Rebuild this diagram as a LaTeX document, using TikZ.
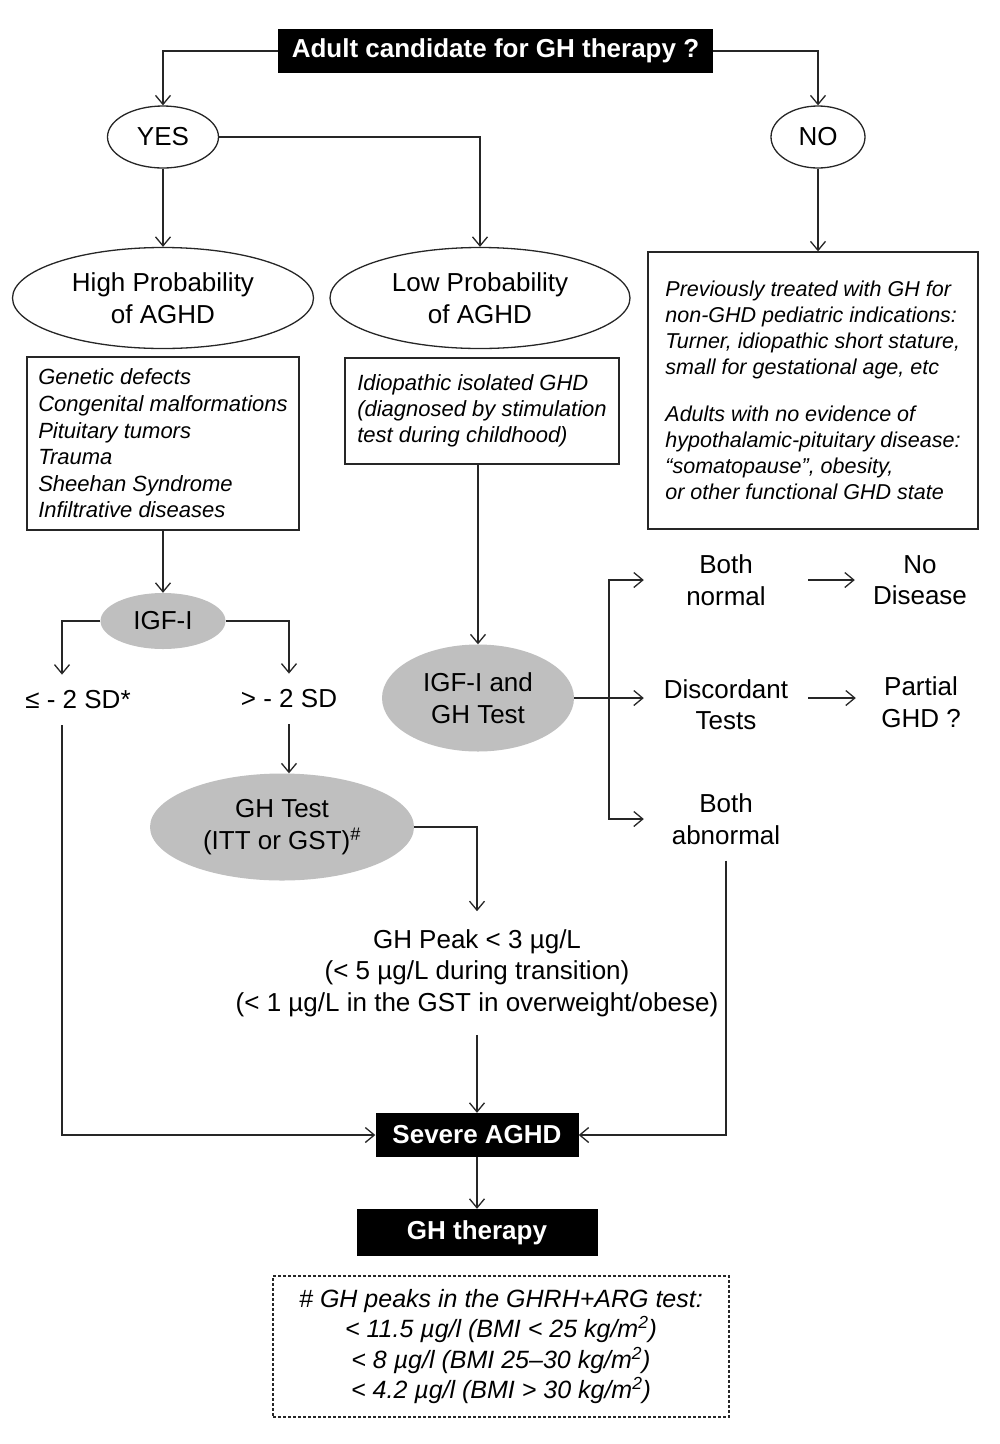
\documentclass[tikz,border=0pt]{standalone}
\usepackage{fontspec}
\setmainfont{Liberation Sans}
\usetikzlibrary{positioning,shapes.geometric,arrows.meta,calc}

\begin{document}
\begin{tikzpicture}[x=1pt,y=-1pt]
    \tikzstyle{every node}=[inner sep=0,align=center,font=\fontsize{26}{31.5}\selectfont]
    \tikzstyle{title}=[fill=black,text=white,font=\fontsize{26}{31.5}\selectfont\bfseries]
    \tikzstyle{oval}=[draw=black!85,ellipse,line width=1.3pt]
    \tikzstyle{grayoval}=[ellipse,fill=gray!50]
    \tikzstyle{list}=[draw=black!85,line width=1.3pt,align=left]
    \tikzstyle{label}=[inner ysep=16pt]
    \tikzstyle{result}=[minimum width=164pt,inner ysep=16pt]
    \tikzstyle{outcome}=[minimum width=130pt]
    \tikzstyle{arr}=[draw=black!85,line width=1.3pt,-{Straight Barb[length=9pt,width=15pt]}]
    {
        \useasboundingbox (0,0) rectangle (1000,1444);

        \node[title,minimum width=435pt,minimum height=44pt] (top) at (495.5,51) {Adult candidate for GH therapy ?};
        \node[oval,minimum width=111pt,minimum height=62pt] (yes) at (163,137) {YES};
        \node[oval,minimum width=94pt,minimum height=62pt] (no) at (818,137) {NO};

        \node[oval,minimum width=301pt,minimum height=101pt] (high) at (163,298) {High Probability\\of AGHD};
        \node[oval,minimum width=300pt,minimum height=101pt] (low) at (480,298) {Low Probability\\of AGHD};

        \node[list,minimum width=272pt,minimum height=173pt,font=\fontsize{22}{26.6}\selectfont\itshape]
            (highbox) at (163,443.5) {Genetic defects\\Congenital malformations\\Pituitary tumors\\Trauma\\Sheehan Syndrome\\Infiltrative diseases};
        \node[list,minimum width=274pt,minimum height=106pt,font=\fontsize{22}{26}\selectfont\itshape]
            (lowbox) at (482,411) {Idiopathic isolated GHD\\(diagnosed by stimulation\\test during childhood)};
        \node[list,minimum width=330pt,minimum height=277pt,font=\fontsize{21.5}{26}\selectfont\itshape]
            (nobox) at (813,390.5) {Previously treated with GH for\\non-GHD pediatric indications:\\Turner, idiopathic short stature,\\small for gestational age, etc\\[21pt]Adults with no evidence of\\hypothalamic-pituitary disease:\\“somatopause”, obesity,\\or other functional GHD state};

        \node[grayoval,minimum width=125pt,minimum height=56pt] (igf) at (163,621) {IGF-I};
        \node[label] (le) at (78,700) {≤ - 2 SD*};
        \node[label] (gt) at (289,699) {> - 2 SD};
        \node[grayoval,minimum width=264pt,minimum height=107pt] (ghtest) at (282,827) {GH Test\\(ITT or GST)\textsuperscript{\#}};
        \node[inner ysep=18pt] (peak) at (477,973) {GH Peak < 3 µg/L\\(< 5 µg/L during transition)\\(< 1 µg/L in the GST in overweight/obese)};

        \node[grayoval,minimum width=192pt,minimum height=107pt] (igfgh) at (478,698) {IGF-I and\\GH Test};
        \node[result] (bn) at (726,580) {Both\\normal};
        \node[outcome] (nd) at (920,580) {No\\Disease};
        \node[result] (disc) at (726,704.5) {Discordant\\Tests};
        \node[outcome] (pg) at (921,702) {Partial\\GHD ?};
        \node[result] (ba) at (726,819) {Both\\abnormal};

        \node[title,minimum width=203pt,minimum height=44pt] (severe) at (477,1135) {Severe AGHD};
        \node[title,minimum width=241pt,minimum height=47pt] (therapy) at (477,1232.5) {GH therapy};
        \node[draw=black!85,densely dashed,line width=1.2pt,minimum width=456pt,minimum height=141pt,font=\fontsize{25}{30.5}\selectfont\itshape]
            (note) at (501,1346.5) {\# GH peaks in the GHRH+ARG test:\\< 11.5 µg/l (BMI < 25 kg/m\textsuperscript{2})\\< 8 µg/l (BMI 25–30 kg/m\textsuperscript{2})\\< 4.2 µg/l (BMI > 30 kg/m\textsuperscript{2})};

        \draw[arr] (top.west) -| (yes.north);
        \draw[arr] (top.east) -| (no.north);
        \draw[arr] (yes.east) -| (low.north);
        \draw[arr] (yes.south) -- (high.north);
        \draw[arr] (no.south) -- (no.south |- nobox.north);
        \draw[arr] (highbox.south) -- (igf.north);
        \draw[arr] (igfgh.north |- lowbox.south) -- (igfgh.north);

        \draw[arr] (igf.west) -| ([xshift=-16pt]le.north);
        \draw[arr] (igf.east) -| (gt.north);
        \draw[arr] (gt.south) -- (gt.south |- ghtest.north);
        \draw[arr] (ghtest.east) -| (peak.north);
        \draw[arr] (peak.south) -- (peak.south |- severe.north);
        \draw[arr] ([xshift=-16pt]le.south) |- (severe.west);
        \draw[arr] (ba.south) |- (severe.east);
        \draw[arr] (severe.south) -- (severe.south |- therapy.north);

        \coordinate (split) at ($(igfgh.east)!0.5!(igfgh.east -| disc.west)$);
        \draw[arr] (igfgh.east) -- (igfgh.east -| disc.west);
        \draw[arr] (split) |- (bn.west);
        \draw[arr] (split) |- (ba.west);
        \draw[arr] (bn.east) -- (nd.west);
        \draw[arr] (igfgh.east -| disc.east) -- (igfgh.east -| pg.west);
    }
\end{tikzpicture}
\end{document}
